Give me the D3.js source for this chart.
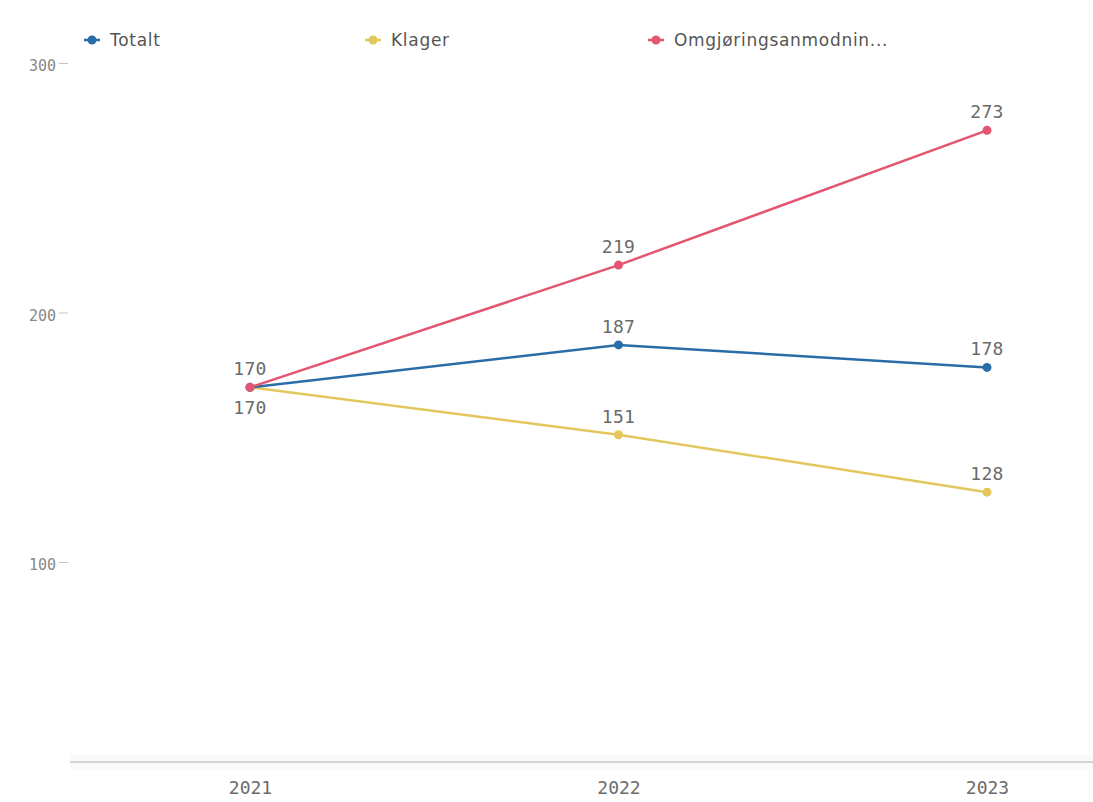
<!DOCTYPE html>
<html><head><meta charset="utf-8">
<script src="https://cdn.jsdelivr.net/npm/d3@7"></script>
<style>body{margin:0;background:#fff}svg{display:block}</style>
</head><body>
<svg id="c" width="1093" height="802"></svg>
<script>
const years = ["2021","2022","2023"];
const seriesNames = ["Totalt","Klager","Omgjøringsanmodnin..."];
const totalt = [170,187,178];
const klager = [170,151,128];
const omgjoring = [170,219,273];
const yTicks = [100,200,300];
const colors = ["#2a6ca8","#e3c75c","#e35570"];

const svg = d3.select("#c");
const x = d3.scalePoint().domain(years).range([250,987]);
const y = d3.scaleLinear().domain([100,300]).range([562,63]);
const mono = "'DejaVu Sans Mono', monospace";

// y axis
const ya = svg.append("g").attr("transform","translate(68,0)")
  .call(d3.axisLeft(y).tickValues(yTicks).tickSize(9).tickPadding(3));
ya.attr("font-size",null).attr("font-family",null);
ya.select(".domain").remove();
ya.selectAll(".tick line").attr("stroke","#c4c4c4");
ya.selectAll(".tick text").attr("fill","#888").attr("font-family",mono).attr("font-size",15).attr("dy","0.5em");

// x axis
const xa = svg.append("g").attr("transform","translate(0,762)")
  .call(d3.axisBottom(x).tickSize(0).tickPadding(19));
xa.attr("font-size",null).attr("font-family",null);
xa.select(".domain").remove();
svg.append("rect").attr("x",70).attr("width",1023).attr("y",755).attr("height",14).attr("fill","#fafafa");
svg.append("line").attr("x1",70).attr("x2",1093).attr("y1",762).attr("y2",762).attr("stroke","#c8c8c8").attr("stroke-width",1.5);
xa.raise();
xa.selectAll(".tick text").attr("fill","#6a6a6a").attr("font-family",mono).attr("font-size",18);

const data = [
  {name:seriesNames[0], vals:totalt, color:colors[0]},
  {name:seriesNames[1], vals:klager, color:colors[1]},
  {name:seriesNames[2], vals:omgjoring, color:colors[2]}
];
const line = d3.line().x((d,i)=>x(years[i])).y(d=>y(d));
const order = [1,0,2];
order.forEach(k=>{
  const s = data[k];
  svg.append("path").attr("d",line(s.vals)).attr("fill","none").attr("stroke",s.color).attr("stroke-width",2.5);
});
order.forEach(k=>{
  const s = data[k];
  svg.selectAll(null).data(s.vals).enter().append("circle")
    .attr("cx",(d,i)=>x(years[i])).attr("cy",d=>y(d)).attr("r",4.5).attr("fill",s.color);
});
// labels
data.forEach((s,k)=>{
  s.vals.forEach((v,i)=>{
    if (k===2 && i===0) return;
    const below = (k===1 && i===0);
    svg.append("text").attr("x",x(years[i])).attr("y",y(v)+(below?27:-12))
      .attr("text-anchor","middle").attr("fill","#6a6a6a")
      .attr("font-family",mono).attr("font-size",18).attr("letter-spacing",0.3).text(v);
  });
});
// legend
const lx = [92,373,656];
data.forEach((s,k)=>{
  const g = svg.append("g").attr("transform",`translate(${lx[k]},40)`);
  g.append("line").attr("x1",-8).attr("x2",8).attr("stroke",s.color).attr("stroke-width",2.5);
  g.append("circle").attr("r",4.5).attr("fill",s.color);
  g.append("text").attr("x",18).attr("y",6).attr("fill","#555")
    .attr("font-family","'DejaVu Sans', sans-serif").attr("font-size",17).attr("letter-spacing",0.7).text(s.name);
});
</script>
</body></html>
